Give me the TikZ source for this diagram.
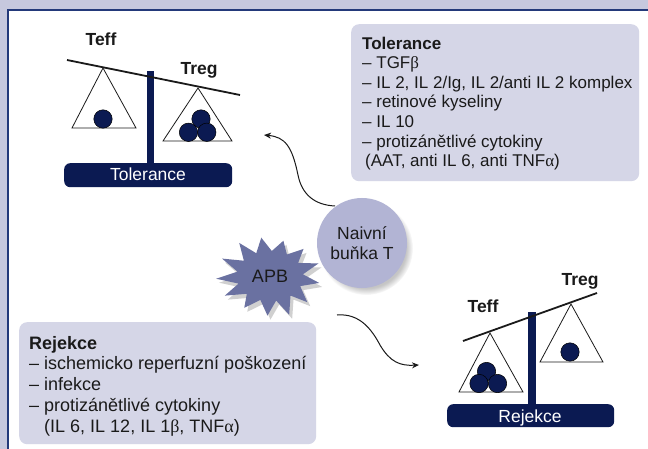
\documentclass[tikz,border=0pt]{standalone}
\usepackage{fontspec}
\setmainfont{Liberation Sans}
\newfontfamily\grk{Liberation Serif}
\usetikzlibrary{shadows,arrows.meta}
\definecolor{bgc}{HTML}{C6C8DE}
\definecolor{borderc}{HTML}{23397A}
\definecolor{boxc}{HTML}{D5D6E7}
\definecolor{navy}{HTML}{0B1A52}
\definecolor{circc}{HTML}{B2B4D4}
\definecolor{starc}{HTML}{6A71A1}
\definecolor{txt}{HTML}{1A1A1A}
\tikzset{
  infobox/.style={fill=boxc, rounded corners=8pt, anchor=north west, inner sep=0pt},
  listtext/.style={anchor=north west, inner sep=0pt, align=left, text=txt},
  lbl/.style={anchor=base, inner sep=0pt, font=\fontsize{17.5}{20}\selectfont\bfseries, text=txt},
  beam/.style={line width=1.8pt, draw=txt},
  pan/.style={draw=txt, line width=0.8pt},
  ball/.style={fill=navy, draw=black, line width=0.5pt},
  basebar/.style={fill=navy, rounded corners=6pt},
  basetext/.style={anchor=base, inner sep=0pt, text=white, font=\fontsize{17.5}{20}\selectfont},
  curvy/.style={line width=1pt, draw=txt, -{Stealth[length=7pt,width=6pt]}},
}
\begin{document}
\begin{tikzpicture}[x=1pt,y=-1pt]
\useasboundingbox (0,0) rectangle (648,449);
\fill[bgc] (0,0) rectangle (648,449);
\draw[borderc, fill=white, line width=1.5pt] (8,10) rectangle (670,470);

% ---------- Tolerance balance (top left)
\node[lbl] (teffA) at (101,46) {Teff};
\node[lbl] (tregA) at (199,75) {Treg};
\fill[navy] (147,71) rectangle (154,165);
\draw[pan] (103,68) -- (72,128) -- (136,128) -- cycle;
\draw[pan] (198,88) -- (163,141) -- (232,141) -- cycle;
\draw[beam] (67,60) -- (240,95);
\filldraw[ball] (103,119) circle (9.2);
\filldraw[ball] (201,119) circle (9.2);
\filldraw[ball] (188.5,132.3) circle (9.2);
\filldraw[ball] (206.8,132.3) circle (9.2);
\node[basebar, minimum width=168pt, minimum height=24pt, anchor=north west] (tolbase) at (64,163) {};
\node[basetext] (toltxt) at (148,181) {Tolerance};

% ---------- Rejection balance (bottom right)
\node[lbl] (tregB) at (580,285) {Treg};
\node[lbl] (teffB) at (483,312) {Teff};
\fill[navy] (528,312) rectangle (536,406);
\draw[pan] (490,333) -- (459,392) -- (523,392) -- cycle;
\draw[pan] (571,304) -- (540,362) -- (603,362) -- cycle;
\draw[beam] (463,341) -- (597,293);
\filldraw[ball] (486.5,371.5) circle (9.2);
\filldraw[ball] (479,383.5) circle (9.2);
\filldraw[ball] (497.5,383.5) circle (9.2);
\filldraw[ball] (570,352) circle (9.2);
\node[basebar, minimum width=167pt, minimum height=23pt, anchor=north west] (rejbase) at (447,404) {};
\node[basetext] (rejtxt) at (530,422) {Rejekce};

% ---------- Tolerance box
\node[infobox, minimum width=288pt, minimum height=157pt] (tolbox) at (351,24) {};
\node[listtext, font=\fontsize{17}{19.6}\selectfont] (tollist) at (362,36.6) {%
\textbf{Tolerance}\\
– TGF{\grk β}\\
– IL 2, IL 2/Ig, IL 2/anti IL 2 komplex\\
– retinové kyseliny\\
– IL 10\\
– protizánětlivé cytokiny\\
\hspace{3pt}(AAT, anti IL 6, anti TNF{\grk α})};

% ---------- Rejekce box
\node[infobox, minimum width=297pt, minimum height=122pt] (rejbox) at (19,322) {};
\node[listtext, font=\fontsize{18}{20.7}\selectfont] (rejlist) at (29,336) {%
\textbf{Rejekce}\\
– ischemicko reperfuzní poškození\\
– infekce\\
– protizánětlivé cytokiny\\
\phantom{– }(IL 6, IL 12, IL 1{\grk β}, TNF{\grk α})};

% ---------- APB star
\path[fill=starc, drop shadow={shadow xshift=3pt, shadow yshift=-4pt, opacity=0.3, fill=black!60}]
  plot[samples at={0,...,25}, variable=\k]
  ({270 + (mod(\k,2)==0 ? 50*(1+0.08*sin(\k*157)) : 33)*cos(\k*360/26+10)},
   {276 + (mod(\k,2)==0 ? 40*(1+0.08*sin(\k*211)) : 25)*sin(\k*360/26+10)}) -- cycle;
\node[inner sep=0pt, anchor=base, font=\fontsize{18}{20}\selectfont, text=txt] (apb) at (270,283) {APB};

% ---------- Naive T cell
\node[circle, fill=circc, minimum size=90pt, inner sep=0pt, align=center,
      font=\fontsize{17.5}{20}\selectfont, text=txt,
      circular drop shadow={shadow xshift=4pt, shadow yshift=-5pt, shadow scale=1.04, opacity=0.45}]
      (naive) at (362,243) {Naivní\\buňka T};

% ---------- arrows
\coordinate (a1s) at (335,206);
\coordinate (a1e) at (264,135);
\draw[curvy] (a1s) .. controls (315,205) and (302,195) .. (298,175)
  .. controls (292,146) and (285,137) .. (a1e);
\coordinate (a2s) at (337,315);
\coordinate (a2e) at (419,365);
\draw[curvy] (a2s) .. controls (360,313) and (372,330) .. (380,345)
  .. controls (390,362) and (400,366) .. (a2e);
\end{tikzpicture}
\end{document}
